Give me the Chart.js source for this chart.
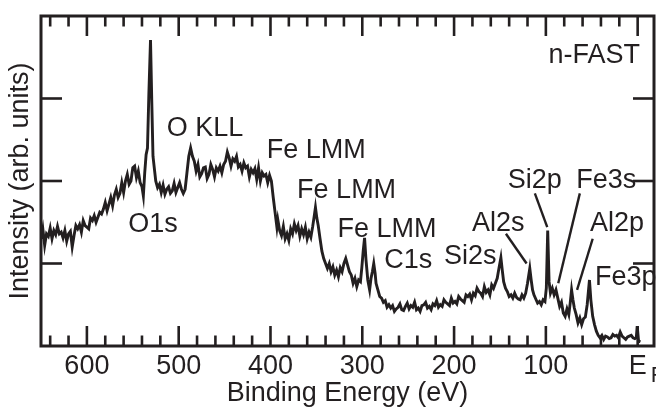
<!DOCTYPE html>
<html>
<head>
<meta charset="utf-8">
<title>n-FAST XPS survey</title>
<script src="https://cdn.jsdelivr.net/npm/chart.js@4"></script>
<style>
  html, body { margin: 0; padding: 0; background: #fff; }
  #wrap { width: 656px; height: 410px; position: relative; }
</style>
</head>
<body>
<div id="wrap"><canvas id="xps"></canvas></div>
<script>
// Survey spectrum: binding energy (eV) and intensity (arb. units)
const energy = [
  650, 648, 646, 644, 642, 640, 638, 636, 634, 632, 630, 628, 626, 624, 622, 620,
  618, 616, 614, 612, 610, 608, 606, 604, 602, 600, 598, 596, 594, 592, 590, 588,
  586, 584, 582, 580, 578, 576, 574, 572, 570, 568, 566, 564, 562, 560, 558, 556,
  554, 552, 550, 548, 546, 544, 542, 540, 538.5, 537, 535.5, 534, 532.5, 530.7, 529.3, 528,
  526.5, 525, 523, 521, 519, 517, 515, 513, 511, 509, 507, 505, 503, 501, 499, 497,
  495, 493, 491, 489, 487, 485, 483, 481, 479, 477, 475, 473, 471, 469, 467, 465,
  463, 461, 459, 457, 455, 453, 451, 449, 447, 445, 443, 441, 439, 437, 435, 433,
  431, 429, 427, 425, 423, 421, 419, 417, 415, 413, 411, 409, 407, 405, 403, 401,
  399, 397, 395, 393, 392, 390, 388, 386, 384, 382, 380, 378, 376, 374, 372, 370,
  368, 366, 364, 362, 360, 358, 356, 354, 352, 351, 349.5, 348, 346, 344, 342, 340,
  338, 336, 334, 332, 330, 328, 326, 324, 322, 320, 318, 316, 314, 312, 310, 308,
  306, 304, 302, 300.5, 299, 297.5, 296, 294, 292, 290.5, 289, 287.5, 286, 285, 283, 281,
  279, 277, 275, 273, 271, 269, 267, 265, 263, 261, 259, 257, 255, 253, 251, 249,
  247, 245, 243, 241, 239, 237, 235, 233, 231, 229, 227, 225, 223, 221, 219, 217,
  215, 213, 211, 209, 207, 205, 203, 201, 199, 197, 195, 193, 191, 189, 187, 185,
  183, 181, 179, 177, 175, 173, 171, 169, 167, 165, 163, 161, 159, 157, 155, 153,
  151, 149, 147.5, 146, 144, 142, 140, 138, 136, 134, 132, 130, 128, 126, 124, 122,
  120, 117.5, 116, 114.5, 113, 111, 109, 107, 105, 103, 101, 99.5, 98, 96.5, 95, 93,
  91, 89, 87, 85, 83, 81, 79, 77, 75, 73.5, 72, 70.5, 69, 67, 65, 63,
  61, 59, 57, 55, 52.5, 51, 49, 47, 45, 43, 41, 39, 37, 35, 33, 31,
  29, 27, 25, 23, 21, 19, 17, 15, 13, 11, 9, 7, 5, 3, 1.5, 0.5,
  -1, -3
];
const counts = [
  1.30, 1.42, 1.22, 1.36, 1.33, 1.43, 1.30, 1.40, 1.35, 1.45, 1.36, 1.38, 1.31, 1.40, 1.27, 1.36,
  1.39, 1.20, 1.34, 1.46, 1.42, 1.47, 1.38, 1.52, 1.46, 1.44, 1.42, 1.55, 1.52, 1.58, 1.50, 1.56,
  1.62, 1.60, 1.66, 1.74, 1.64, 1.72, 1.80, 1.70, 1.83, 1.90, 1.80, 1.85, 1.98, 1.86, 2.00, 2.08,
  1.96, 2.00, 2.16, 2.18, 2.04, 2.12, 1.98, 1.93, 1.82, 2.10, 2.32, 2.40, 3.05, 3.71, 2.95, 2.30,
  2.15, 2.00, 1.92, 1.96, 1.86, 1.95, 1.84, 1.90, 1.93, 1.85, 1.88, 1.97, 1.86, 1.92, 1.98, 1.90,
  1.85, 1.90, 2.10, 2.30, 2.40, 2.30, 2.24, 2.12, 2.20, 2.05, 2.09, 2.16, 2.17, 2.03, 2.08, 2.20,
  2.14, 2.05, 2.16, 2.12, 2.18, 2.10, 2.20, 2.24, 2.35, 2.28, 2.18, 2.27, 2.24, 2.30, 2.17, 2.20,
  2.12, 2.22, 2.16, 2.18, 2.05, 2.14, 2.10, 2.15, 2.02, 2.16, 2.00, 2.10, 2.06, 2.08, 1.98, 2.07,
  2.00, 1.80, 1.62, 1.44, 1.53, 1.40, 1.34, 1.45, 1.30, 1.36, 1.28, 1.42, 1.36, 1.48, 1.40, 1.46,
  1.33, 1.42, 1.35, 1.44, 1.30, 1.38, 1.32, 1.45, 1.60, 1.68, 1.55, 1.46, 1.30, 1.15, 1.06, 1.00,
  0.94, 1.00, 0.90, 0.96, 0.86, 0.92, 0.84, 0.95, 0.90, 1.00, 1.06, 0.98, 0.90, 0.86, 0.76, 0.82,
  0.72, 0.80, 0.78, 0.95, 1.15, 1.31, 1.05, 0.80, 0.68, 0.82, 0.90, 1.00, 0.88, 0.76, 0.68, 0.60,
  0.58, 0.53, 0.55, 0.47, 0.50, 0.46, 0.49, 0.42, 0.45, 0.47, 0.51, 0.44, 0.43, 0.48, 0.52, 0.45,
  0.49, 0.47, 0.53, 0.44, 0.46, 0.42, 0.49, 0.50, 0.53, 0.46, 0.48, 0.44, 0.51, 0.49, 0.55, 0.47,
  0.50, 0.48, 0.56, 0.53, 0.51, 0.49, 0.58, 0.52, 0.54, 0.51, 0.60, 0.57, 0.55, 0.53, 0.62, 0.60,
  0.63, 0.56, 0.64, 0.61, 0.70, 0.66, 0.64, 0.60, 0.72, 0.65, 0.68, 0.62, 0.74, 0.70, 0.76, 0.82,
  0.95, 1.07, 0.92, 0.78, 0.70, 0.66, 0.60, 0.62, 0.58, 0.64, 0.59, 0.57, 0.56, 0.62, 0.58, 0.64,
  0.76, 0.94, 0.80, 0.68, 0.62, 0.57, 0.52, 0.54, 0.50, 0.56, 0.54, 0.70, 1.40, 0.78, 0.64, 0.70,
  0.62, 0.68, 0.58, 0.48, 0.53, 0.40, 0.36, 0.45, 0.38, 0.52, 0.68, 0.56, 0.46, 0.38, 0.28, 0.34,
  0.26, 0.33, 0.35, 0.50, 0.80, 0.56, 0.36, 0.26, 0.18, 0.13, 0.10, 0.13, 0.08, 0.12, 0.11, 0.09,
  0.10, 0.14, 0.12, 0.13, 0.10, 0.17, 0.12, 0.10, 0.08, 0.11, 0.12, 0.13, 0.10, 0.09, 0.10, 0.24,
  0.06, 0.05
];

// Bottom axis: every 20 eV gets a tick, these get a number
const labelledTicks = [600, 500, 400, 300, 200, 100];

// Peak names, anchored at [binding energy, intensity] of the text's left baseline
const peakLabels = [
  { text: 'O1s', at: [555, 1.38] },
  { text: 'O KLL', at: [513, 2.54] },
  { text: 'Fe LMM', at: [404, 2.28] },
  { text: 'Fe LMM', at: [371, 1.80] },
  { text: 'Fe LMM', at: [327, 1.32] },
  { text: 'C1s', at: [276, 0.94] },
  { text: 'Si2s', at: [211, 1.00] },
  { text: 'Al2s', at: [180.5, 1.40] },
  { text: 'Si2p', at: [141.5, 1.92] },
  { text: 'Fe3s', at: [67, 1.92] },
  { text: 'Al2p', at: [52, 1.40] },
  { text: 'Fe3p', at: [46.5, 0.74] }
];

// Leader lines from label to peak, [eV, intensity] pairs
const leaders = [
  [[143.5, 1.36], [121, 1.00]],
  [[112, 1.85], [98.5, 1.44]],
  [[63, 1.85], [86.5, 0.76]],
  [[49, 1.30], [66, 0.68]]
];

const ink = '#231f20';
const family = '"Liberation Sans", Arial, Helvetica, sans-serif';

// Frame, inward ticks, peak names and the Fermi level label
const frameAndNotes = {
  id: 'frameAndNotes',
  afterDatasetsDraw(chart) {
    const { ctx, chartArea: a, scales: { x, y } } = chart;
    const seg = (x1, y1, x2, y2) => {
      ctx.beginPath();
      ctx.moveTo(x1, y1);
      ctx.lineTo(x2, y2);
      ctx.stroke();
    };
    ctx.save();
    ctx.strokeStyle = ink;
    ctx.fillStyle = ink;
    ctx.lineCap = 'butt';

    ctx.lineWidth = 2.6;
    x.ticks.forEach(t => {
      const px = x.getPixelForValue(t.value);
      const len = t.value % 100 === 0 ? 20 : 10.5;
      seg(px, a.bottom, px, a.bottom - len);
      seg(px, a.top, px, a.top + len);
    });
    y.ticks.forEach(t => {
      if (t.value <= y.min || t.value >= y.max) return;
      const py = y.getPixelForValue(t.value);
      seg(a.left, py, a.left + 21, py);
      seg(a.right, py, a.right - 21, py);
    });

    ctx.lineWidth = 3;
    ctx.strokeRect(a.left, a.top, a.right - a.left, a.bottom - a.top);

    ctx.lineWidth = 2.4;
    leaders.forEach(([p, q]) => {
      seg(x.getPixelForValue(p[0]), y.getPixelForValue(p[1]),
          x.getPixelForValue(q[0]), y.getPixelForValue(q[1]));
    });

    ctx.font = '27px ' + family;
    ctx.textBaseline = 'alphabetic';
    ctx.textAlign = 'left';
    peakLabels.forEach(l => {
      ctx.fillText(l.text, x.getPixelForValue(l.at[0]), y.getPixelForValue(l.at[1]));
    });

    ctx.textAlign = 'right';
    ctx.fillText('n-FAST', a.right - 14, a.top + 47);

    // subscript F next to the E tick label at 0 eV
    ctx.textAlign = 'left';
    ctx.font = '22px ' + family;
    ctx.fillText('F', x.getPixelForValue(0) + 13, a.bottom + 36);
    ctx.restore();
  }
};

const ctx = document.getElementById('xps').getContext('2d');
const xpsChart = new Chart(ctx, {
  type: 'line',
  data: {
    datasets: [{
      data: energy.map((e, i) => ({ x: e, y: counts[i] })),
      borderColor: ink,
      borderWidth: 2.9,
      pointRadius: 0,
      tension: 0,
      fill: false
    }]
  },
  options: {
    responsive: true,
    maintainAspectRatio: false,
    animation: false,
    layout: { padding: { top: 16, right: 2, bottom: 0, left: 0 } },
    plugins: {
      legend: { display: false },
      tooltip: { enabled: false }
    },
    scales: {
      x: {
        type: 'linear',
        reverse: true,
        min: -17.8,
        max: 650,
        grid: { display: false, drawTicks: false },
        border: { display: false },
        ticks: {
          stepSize: 20,
          autoSkip: false,
          includeBounds: false,
          maxRotation: 0,
          padding: 4,
          color: ink,
          font: { family: family, size: 27 },
          callback: function(value) {
            if (value === 0) return 'E';
            return labelledTicks.includes(value) ? String(value) : '';
          }
        },
        title: {
          display: true,
          text: 'Binding Energy (eV)',
          color: ink,
          font: { family: family, size: 27 },
          padding: { top: 0, bottom: 0 }
        },
        afterFit: function(scale) { scale.height = 64; }
      },
      y: {
        min: 0,
        max: 4,
        grid: { display: false, drawTicks: false },
        border: { display: false },
        ticks: { stepSize: 1, display: false },
        title: {
          display: true,
          text: 'Intensity (arb. units)',
          color: ink,
          font: { family: family, size: 27 },
          padding: { top: 4, bottom: 0 }
        },
        afterFit: function(scale) { scale.width = 41; }
      }
    }
  },
  plugins: [frameAndNotes]
});
</script>
</body>
</html>
